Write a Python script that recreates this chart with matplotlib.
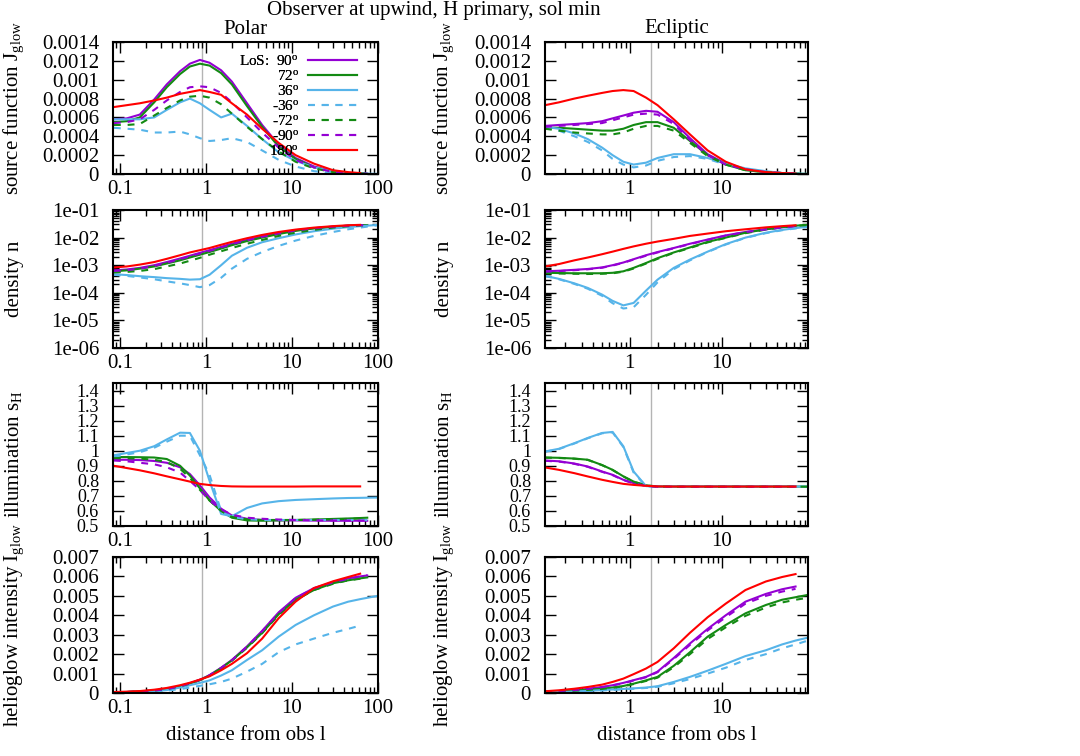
import numpy as np
import matplotlib
matplotlib.use('Agg')
import matplotlib.pyplot as plt
from matplotlib.ticker import FuncFormatter, LogLocator, MultipleLocator, NullFormatter

nan = np.nan

# line-of-sight labels and styles
los = ['90', '72', '36', '-36', '-72', '-90', '180']
los_color = {'90': '#9400d3', '72': '#138a13', '36': '#56b4e9', '-36': '#56b4e9',
             '-72': '#138a13', '-90': '#9400d3', '180': '#ff0000'}

# distance grids
x_polar = [0.085, 0.12, 0.17, 0.25, 0.35, 0.5, 0.65, 0.85, 1.1, 1.5, 2, 3, 4.5, 7, 11, 18, 30, 45, 62, 75, 100]
x_ecl = [0.12, 0.17, 0.25, 0.35, 0.5, 0.65, 0.85, 1.1, 1.5, 2, 3, 4.5, 7, 11, 18, 30, 45, 63, 86]
vline_polar = 0.91
vline_ecl = 1.69

# source function, polar
J_polar = {
    '90':  [5.8e-4, 5.9e-4, 6.3e-4, 7.9e-4, 9.5e-4, 1.09e-3, 1.17e-3, 1.21e-3, 1.18e-3, 1.10e-3, 9.8e-4, 7.5e-4, 5.2e-4, 3.1e-4, 1.7e-4, 8e-5, 3e-5, 1e-5, 5e-6, 3e-6, nan],
    '72':  [5.5e-4, 5.6e-4, 6.0e-4, 7.6e-4, 9.2e-4, 1.06e-3, 1.14e-3, 1.17e-3, 1.15e-3, 1.07e-3, 9.5e-4, 7.2e-4, 5.0e-4, 2.9e-4, 1.6e-4, 7e-5, 3e-5, 1e-5, 5e-6, 3e-6, nan],
    '36':  [5.8e-4, 5.8e-4, 5.8e-4, 6.0e-4, 6.8e-4, 7.6e-4, 8.0e-4, 7.5e-4, 6.8e-4, 6.0e-4, 6.4e-4, 5.1e-4, 3.7e-4, 2.3e-4, 1.4e-4, 7e-5, 3e-5, 1e-5, 5e-6, 3e-6, 2e-6],
    '-36': [4.9e-4, 4.8e-4, 4.7e-4, 4.4e-4, 4.4e-4, 4.5e-4, 4.2e-4, 3.8e-4, 3.5e-4, 3.6e-4, 3.8e-4, 3.4e-4, 2.5e-4, 1.5e-4, 8e-5, 3e-5, 1e-5, 5e-6, 3e-6, nan, nan],
    '-72': [5.2e-4, 5.2e-4, 5.3e-4, 6.2e-4, 7.0e-4, 7.8e-4, 8.2e-4, 8.3e-4, 8.1e-4, 7.4e-4, 6.4e-4, 5.0e-4, 3.7e-4, 2.4e-4, 1.3e-4, 6e-5, 2e-5, 1e-5, 5e-6, 3e-6, nan],
    '-90': [5.4e-4, 5.5e-4, 5.8e-4, 6.8e-4, 7.8e-4, 8.7e-4, 9.2e-4, 9.3e-4, 9.2e-4, 8.6e-4, 7.6e-4, 6.0e-4, 4.4e-4, 2.8e-4, 1.5e-4, 7e-5, 2e-5, 1e-5, 5e-6, 3e-6, nan],
    '180': [7.1e-4, 7.3e-4, 7.5e-4, 7.8e-4, 8.1e-4, 8.5e-4, 8.7e-4, 8.9e-4, 8.7e-4, 8.4e-4, 7.5e-4, 6.3e-4, 4.8e-4, 3.3e-4, 2.0e-4, 1.1e-4, 4e-5, 2e-5, 1e-5, nan, nan],
}

# density, polar
n_polar = {
    '90':  [6.5e-4, 7e-4, 8e-4, 1e-3, 1.3e-3, 1.75e-3, 2.2e-3, 2.8e-3, 3.5e-3, 4.6e-3, 6e-3, 8.3e-3, 1.1e-2, 1.45e-2, 1.85e-2, 2.2e-2, 2.5e-2, 2.7e-2, 2.8e-2, 2.85e-2, nan],
    '72':  [6e-4, 6.5e-4, 7.5e-4, 9e-4, 1.15e-3, 1.5e-3, 1.9e-3, 2.4e-3, 3e-3, 4e-3, 5.3e-3, 7.5e-3, 1e-2, 1.35e-2, 1.75e-2, 2.15e-2, 2.45e-2, 2.7e-2, 2.8e-2, 2.85e-2, nan],
    '36':  [4.7e-4, 4.4e-4, 4e-4, 3.7e-4, 3.4e-4, 3.2e-4, 3e-4, 3.1e-4, 4.5e-4, 1e-3, 2.2e-3, 4.3e-3, 6.8e-3, 9.5e-3, 1.3e-2, 1.7e-2, 2.1e-2, 2.4e-2, 2.6e-2, 2.7e-2, 2.9e-2],
    '-36': [4.5e-4, 4.1e-4, 3.6e-4, 3.1e-4, 2.6e-4, 2.2e-4, 1.9e-4, 1.6e-4, 1.9e-4, 3.5e-4, 7.5e-4, 1.7e-3, 3e-3, 5e-3, 7.8e-3, 1.15e-2, 1.6e-2, 2e-2, 2.3e-2, 2.5e-2, 2.8e-2],
    '-72': [5.5e-4, 5.7e-4, 6.2e-4, 7.2e-4, 9e-4, 1.15e-3, 1.45e-3, 1.85e-3, 2.4e-3, 3.2e-3, 4.2e-3, 6e-3, 8.2e-3, 1.15e-2, 1.5e-2, 1.9e-2, 2.3e-2, 2.6e-2, 2.75e-2, 2.8e-2, nan],
    '-90': [6.2e-4, 6.6e-4, 7.5e-4, 9.4e-4, 1.22e-3, 1.65e-3, 2.1e-3, 2.65e-3, 3.3e-3, 4.4e-3, 5.8e-3, 8e-3, 1.07e-2, 1.42e-2, 1.82e-2, 2.18e-2, 2.48e-2, 2.7e-2, 2.8e-2, 2.85e-2, nan],
    '180': [8.3e-4, 9e-4, 1.05e-3, 1.3e-3, 1.7e-3, 2.3e-3, 2.9e-3, 3.5e-3, 4.2e-3, 5.5e-3, 7e-3, 9.5e-3, 1.25e-2, 1.6e-2, 1.95e-2, 2.3e-2, 2.6e-2, 2.8e-2, 2.9e-2, nan, nan],
}

# illumination, polar
s_polar = {
    '90':  [0.94, 0.94, 0.938, 0.932, 0.92, 0.89, 0.845, 0.77, 0.69, 0.615, 0.57, 0.548, 0.54, 0.538, 0.537, 0.536, 0.535, 0.535, 0.535, 0.535, nan],
    '72':  [0.958, 0.958, 0.957, 0.955, 0.945, 0.9, 0.835, 0.75, 0.67, 0.6, 0.555, 0.537, 0.535, 0.537, 0.54, 0.543, 0.547, 0.55, 0.553, 0.555, nan],
    '36':  [0.97, 0.985, 1.0, 1.03, 1.075, 1.12, 1.118, 1.0, 0.8, 0.58, 0.565, 0.62, 0.65, 0.665, 0.673, 0.678, 0.683, 0.686, 0.687, 0.688, 0.689],
    '-36': [0.96, 0.975, 0.99, 1.02, 1.06, 1.1, 1.1, 0.97, 0.84, 0.6, 0.56, 0.545, 0.54, 0.54, 0.54, 0.54, 0.54, 0.54, 0.54, 0.54, nan],
    '-72': [0.95, 0.95, 0.948, 0.94, 0.925, 0.88, 0.82, 0.74, 0.67, 0.6, 0.56, 0.545, 0.54, 0.54, 0.54, 0.542, 0.545, 0.547, 0.55, 0.55, nan],
    '-90': [0.935, 0.93, 0.92, 0.91, 0.89, 0.855, 0.8, 0.74, 0.67, 0.61, 0.575, 0.555, 0.548, 0.543, 0.54, 0.538, 0.537, 0.536, 0.536, 0.536, nan],
    '180': [0.9, 0.885, 0.87, 0.85, 0.83, 0.81, 0.795, 0.78, 0.772, 0.766, 0.763, 0.762, 0.762, 0.762, 0.762, 0.763, 0.763, 0.763, 0.763, nan, nan],
}

# helioglow intensity, polar
I_polar = {
    '90':  [3e-5, 5e-5, 8e-5, 1.3e-4, 2e-4, 3.5e-4, 5e-4, 6.8e-4, 9.2e-4, 1.3e-3, 1.7e-3, 2.4e-3, 3.2e-3, 4.15e-3, 4.9e-3, 5.4e-3, 5.7e-3, 5.9e-3, 6e-3, 6.05e-3, nan],
    '72':  [3e-5, 5e-5, 8e-5, 1.3e-4, 2e-4, 3.4e-4, 4.9e-4, 6.7e-4, 9e-4, 1.28e-3, 1.68e-3, 2.35e-3, 3.1e-3, 4.05e-3, 4.8e-3, 5.3e-3, 5.65e-3, 5.8e-3, 5.9e-3, 5.95e-3, nan],
    '36':  [2e-5, 3e-5, 5e-5, 9e-5, 1.5e-4, 2.8e-4, 4e-4, 5.2e-4, 6.5e-4, 9e-4, 1.17e-3, 1.7e-3, 2.2e-3, 2.9e-3, 3.5e-3, 4e-3, 4.45e-3, 4.7e-3, 4.83e-3, 4.9e-3, 5e-3],
    '-36': [1e-5, 2e-5, 4e-5, 7e-5, 1.2e-4, 2e-4, 2.8e-4, 3.7e-4, 4.5e-4, 5.7e-4, 7.4e-4, 1.1e-3, 1.5e-3, 2.1e-3, 2.5e-3, 2.8e-3, 3.1e-3, 3.3e-3, 3.47e-3, nan, nan],
    '-72': [3e-5, 5e-5, 8e-5, 1.3e-4, 2e-4, 3.4e-4, 4.8e-4, 6.6e-4, 8.9e-4, 1.26e-3, 1.66e-3, 2.33e-3, 3.08e-3, 4.02e-3, 4.78e-3, 5.3e-3, 5.62e-3, 5.8e-3, 5.88e-3, 5.92e-3, nan],
    '-90': [3e-5, 5e-5, 8e-5, 1.3e-4, 2e-4, 3.5e-4, 5e-4, 6.8e-4, 9.1e-4, 1.29e-3, 1.69e-3, 2.38e-3, 3.18e-3, 4.12e-3, 4.88e-3, 5.38e-3, 5.7e-3, 5.88e-3, 6e-3, 6.05e-3, nan],
    '180': [5e-5, 7e-5, 1e-4, 1.7e-4, 2.6e-4, 4e-4, 5.3e-4, 6.9e-4, 8.6e-4, 1.17e-3, 1.5e-3, 2.05e-3, 2.8e-3, 3.85e-3, 4.7e-3, 5.4e-3, 5.75e-3, 5.97e-3, 6.14e-3, nan, nan],
}

# source function, ecliptic
J_ecl = {
    '90':  [5.1e-4, 5.2e-4, 5.3e-4, 5.4e-4, 5.6e-4, 5.9e-4, 6.2e-4, 6.5e-4, 6.7e-4, 6.6e-4, 5.5e-4, 3.8e-4, 2.1e-4, 1.1e-4, 5e-5, 2e-5, 1e-5, 5e-6, nan],
    '72':  [4.9e-4, 4.9e-4, 4.8e-4, 4.7e-4, 4.6e-4, 4.6e-4, 4.8e-4, 5.2e-4, 5.5e-4, 5.5e-4, 4.9e-4, 3.5e-4, 2.0e-4, 1.0e-4, 4e-5, 2e-5, 1e-5, 3e-6, 1e-6],
    '36':  [5.0e-4, 4.8e-4, 4.3e-4, 3.7e-4, 2.8e-4, 2.0e-4, 1.3e-4, 1.0e-4, 1.2e-4, 1.7e-4, 2.1e-4, 2.1e-4, 1.7e-4, 1.1e-4, 6e-5, 3e-5, 1e-5, 5e-6, 1e-6],
    '-36': [5.0e-4, 4.6e-4, 4.0e-4, 3.4e-4, 2.5e-4, 1.6e-4, 1.0e-4, 7e-5, 9e-5, 1.4e-4, 1.8e-4, 1.9e-4, 1.6e-4, 1.0e-4, 5e-5, 2e-5, 1e-5, 3e-6, 1e-6],
    '-72': [4.8e-4, 4.6e-4, 4.4e-4, 4.3e-4, 4.2e-4, 4.2e-4, 4.4e-4, 4.8e-4, 5.1e-4, 5.1e-4, 4.6e-4, 3.3e-4, 1.9e-4, 1.0e-4, 4e-5, 2e-5, 1e-5, 3e-6, 1e-6],
    '-90': [5.0e-4, 5.1e-4, 5.2e-4, 5.3e-4, 5.4e-4, 5.7e-4, 6.0e-4, 6.3e-4, 6.4e-4, 6.3e-4, 5.3e-4, 3.6e-4, 2.0e-4, 1.0e-4, 5e-5, 2e-5, 1e-5, 5e-6, nan],
    '180': [7.3e-4, 7.6e-4, 8.0e-4, 8.3e-4, 8.6e-4, 8.8e-4, 8.9e-4, 8.8e-4, 8.1e-4, 7.3e-4, 5.8e-4, 4.2e-4, 2.5e-4, 1.3e-4, 5e-5, 2e-5, 1e-5, 5e-6, nan],
}

# density, ecliptic
n_ecl = {
    '90':  [6e-4, 6.3e-4, 6.8e-4, 7.3e-4, 8.3e-4, 1e-3, 1.25e-3, 1.65e-3, 2.3e-3, 3e-3, 4.2e-3, 6e-3, 8.5e-3, 1.2e-2, 1.6e-2, 2e-2, 2.35e-2, 2.6e-2, nan],
    '72':  [5.3e-4, 5.2e-4, 5.1e-4, 5.1e-4, 5.1e-4, 5.3e-4, 6e-4, 8e-4, 1.2e-3, 1.8e-3, 2.9e-3, 4.4e-3, 7e-3, 1e-2, 1.5e-2, 2e-2, 2.4e-2, 2.7e-2, 2.9e-2],
    '36':  [4.1e-4, 3.2e-4, 2.2e-4, 1.5e-4, 8.6e-5, 5.1e-5, 3.5e-5, 4.3e-5, 1.2e-4, 3e-4, 8e-4, 1.6e-3, 3.1e-3, 5.8e-3, 1e-2, 1.5e-2, 1.9e-2, 2.2e-2, 2.5e-2],
    '-36': [4.1e-4, 3.1e-4, 2.1e-4, 1.4e-4, 7.8e-5, 4.2e-5, 2.7e-5, 3e-5, 8.5e-5, 2.4e-4, 7.2e-4, 1.5e-3, 3e-3, 5.6e-3, 9.8e-3, 1.45e-2, 1.85e-2, 2.15e-2, 2.45e-2],
    '-72': [5.1e-4, 5e-4, 4.9e-4, 4.8e-4, 4.9e-4, 5.1e-4, 5.8e-4, 7.6e-4, 1.15e-3, 1.7e-3, 2.8e-3, 4.2e-3, 6.7e-3, 9.8e-3, 1.45e-2, 1.95e-2, 2.35e-2, 2.65e-2, 2.85e-2],
    '-90': [5.8e-4, 6.1e-4, 6.6e-4, 7.1e-4, 8.1e-4, 9.7e-4, 1.22e-3, 1.6e-3, 2.2e-3, 2.9e-3, 4.1e-3, 5.8e-3, 8.3e-3, 1.18e-2, 1.58e-2, 1.98e-2, 2.33e-2, 2.6e-2, nan],
    '180': [9e-4, 1.1e-3, 1.5e-3, 1.9e-3, 2.5e-3, 3.1e-3, 3.9e-3, 4.8e-3, 6e-3, 7.2e-3, 9e-3, 1.15e-2, 1.4e-2, 1.7e-2, 2e-2, 2.35e-2, 2.6e-2, 2.8e-2, nan],
}

# illumination, ecliptic
s_ecl = {
    '90':  [0.935, 0.93, 0.915, 0.895, 0.862, 0.84, 0.807, 0.785, 0.767, 0.762, 0.762, 0.762, 0.762, 0.762, 0.762, 0.762, 0.762, 0.762, nan],
    '72':  [0.955, 0.953, 0.948, 0.94, 0.905, 0.873, 0.83, 0.795, 0.77, 0.763, 0.762, 0.762, 0.762, 0.762, 0.762, 0.762, 0.762, 0.762, 0.762],
    '36':  [0.995, 1.013, 1.05, 1.085, 1.118, 1.125, 1.03, 0.862, 0.765, 0.762, 0.762, 0.762, 0.762, 0.762, 0.762, 0.762, 0.762, 0.762, 0.762],
    '-36': [0.993, 1.011, 1.048, 1.083, 1.116, 1.122, 1.025, 0.855, 0.764, 0.761, 0.761, 0.761, 0.761, 0.761, 0.761, 0.761, 0.761, 0.761, 0.761],
    '-72': [0.954, 0.952, 0.947, 0.939, 0.904, 0.872, 0.829, 0.794, 0.769, 0.762, 0.761, 0.761, 0.761, 0.761, 0.761, 0.761, 0.761, 0.761, 0.761],
    '-90': [0.933, 0.928, 0.913, 0.893, 0.86, 0.838, 0.805, 0.783, 0.766, 0.761, 0.761, 0.761, 0.761, 0.761, 0.761, 0.761, 0.761, 0.761, nan],
    '180': [0.889, 0.873, 0.851, 0.829, 0.807, 0.793, 0.78, 0.773, 0.767, 0.763, 0.762, 0.762, 0.762, 0.762, 0.762, 0.762, 0.762, 0.762, nan],
}

# helioglow intensity, ecliptic
I_ecl = {
    '90':  [7e-5, 1e-4, 1.5e-4, 2.1e-4, 3.1e-4, 4e-4, 5.2e-4, 6.6e-4, 8.3e-4, 1.1e-3, 1.8e-3, 2.55e-3, 3.3e-3, 4e-3, 4.7e-3, 5.1e-3, 5.34e-3, 5.48e-3, nan],
    '72':  [6e-5, 8e-5, 1.2e-4, 1.7e-4, 2.2e-4, 2.8e-4, 3.6e-4, 4.8e-4, 6.5e-4, 8.3e-4, 1.4e-3, 2.1e-3, 2.9e-3, 3.5e-3, 4.1e-3, 4.53e-3, 4.8e-3, 4.93e-3, 5.05e-3],
    '36':  [3e-5, 5e-5, 8e-5, 1.1e-4, 1.5e-4, 1.8e-4, 2.1e-4, 2.4e-4, 2.8e-4, 3.5e-4, 5.7e-4, 8.3e-4, 1.15e-3, 1.5e-3, 1.9e-3, 2.2e-3, 2.5e-3, 2.7e-3, 2.85e-3],
    '-36': [3e-5, 5e-5, 7e-5, 1e-4, 1.3e-4, 1.6e-4, 1.9e-4, 2.2e-4, 2.6e-4, 3.2e-4, 5e-4, 7.2e-4, 1e-3, 1.3e-3, 1.7e-3, 2e-3, 2.3e-3, 2.5e-3, 2.7e-3],
    '-72': [6e-5, 8e-5, 1.2e-4, 1.6e-4, 2.1e-4, 2.7e-4, 3.4e-4, 4.6e-4, 6.2e-4, 7.9e-4, 1.33e-3, 2e-3, 2.78e-3, 3.38e-3, 3.97e-3, 4.4e-3, 4.66e-3, 4.8e-3, 4.9e-3],
    '-90': [7e-5, 1e-4, 1.5e-4, 2.1e-4, 3e-4, 3.9e-4, 5e-4, 6.4e-4, 8.1e-4, 1.07e-3, 1.75e-3, 2.48e-3, 3.22e-3, 3.9e-3, 4.6e-3, 5e-3, 5.22e-3, 5.36e-3, nan],
    '180': [9e-5, 1.4e-4, 2.2e-4, 3.1e-4, 4.3e-4, 5.7e-4, 7.4e-4, 9.7e-4, 1.26e-3, 1.6e-3, 2.3e-3, 3.1e-3, 3.9e-3, 4.6e-3, 5.3e-3, 5.74e-3, 5.97e-3, 6.12e-3, nan],
}

ylabels = ['source function J$_{\\rm glow}$', 'density n', 'illumination s$_{\\rm H}$',
           'helioglow intensity I$_{\\rm glow}$']

plt.rcParams['font.family'] = ['Liberation Serif', 'DejaVu Serif']
plt.rcParams['mathtext.fontset'] = 'custom'
plt.rcParams['mathtext.rm'] = 'Liberation Serif'
plt.rcParams['mathtext.it'] = 'Liberation Serif:italic'
plt.rcParams['font.size'] = 15

W, H = 1080, 756
fig = plt.figure(figsize=(W / 100, H / 100), dpi=100)

cols = [
    dict(x=x_polar, vline=vline_polar, xlim=(0.083, 100), left=113, right=378,
         data=[J_polar, n_polar, s_polar, I_polar], title='Polar', lab_x=14),
    dict(x=x_ecl, vline=vline_ecl, xlim=(0.12, 86), left=545, right=808,
         data=[J_ecl, n_ecl, s_ecl, I_ecl], title='Ecliptic', lab_x=444),
]
rows = [(42, 174), (210, 348), (383, 526), (557, 693)]

gfmt = FuncFormatter(lambda v, p: '%g' % v)

for col in cols:
    for r, (top, bot) in enumerate(rows):
        ax = fig.add_axes([col['left'] / W, 1 - bot / H, (col['right'] - col['left']) / W, (bot - top) / H])
        ax.axvline(col['vline'], color='#b4b4b4', lw=1, zorder=1)
        handles = []
        for k in los:
            ls = (0, (3.3, 3.3)) if k.startswith('-') else '-'
            ln, = ax.plot(col['x'], np.array(col['data'][r][k], float), color=los_color[k],
                          lw=1.5, linestyle=ls, zorder=2)
            handles.append(ln)
        ax.set_xscale('log')
        ax.set_xlim(*col['xlim'])
        ax.xaxis.set_major_locator(LogLocator(base=10))
        ax.xaxis.set_minor_locator(LogLocator(base=10, subs=np.arange(2, 10), numticks=20))
        ax.xaxis.set_major_formatter(gfmt)
        ax.xaxis.set_minor_formatter(NullFormatter())
        ysize = 15
        if r == 0:
            ax.set_ylim(0, 0.0014)
            ax.yaxis.set_major_locator(MultipleLocator(0.0002))
            ax.yaxis.set_major_formatter(gfmt)
        elif r == 1:
            ax.set_yscale('log')
            ax.set_ylim(1e-6, 1e-1)
            ax.yaxis.set_major_locator(LogLocator(base=10, numticks=20))
            ax.yaxis.set_minor_locator(LogLocator(base=10, subs=np.arange(2, 10), numticks=20))
            ax.yaxis.set_major_formatter(FuncFormatter(lambda v, p: '%.0e' % v))
            ax.yaxis.set_minor_formatter(NullFormatter())
        elif r == 2:
            ax.set_ylim(0.5, 1.45)
            ax.yaxis.set_major_locator(MultipleLocator(0.1))
            ax.yaxis.set_major_formatter(gfmt)
            ysize = 13
        else:
            ax.set_ylim(0, 0.007)
            ax.yaxis.set_major_locator(MultipleLocator(0.001))
            ax.yaxis.set_major_formatter(gfmt)
        ax.tick_params(which='both', direction='in', top=True, right=True, width=1)
        ax.tick_params(which='major', length=8)
        ax.tick_params(which='minor', length=4)
        ax.tick_params(axis='x', pad=4, labelsize=15)
        ax.tick_params(axis='y', pad=10, labelsize=ysize)
        for sp in ax.spines.values():
            sp.set_linewidth(1.5)
        fig.text(col['lab_x'] / W, 1 - (top + bot) / 2 / H, ylabels[r], rotation=90,
                 ha='center', va='center', fontsize=15)
        if r == 0:
            labels = ['LoS:  90$^{\\rm o}$'] + [k + '$^{\\rm o}$' for k in los[1:]]
            ax.legend(handles, labels, loc='upper right', frameon=False, markerfirst=False,
                      fontsize=11, handlelength=3.2, handletextpad=0.6, labelspacing=0.07,
                      borderpad=0, borderaxespad=0,
                      bbox_to_anchor=((357 - col['left']) / (col['right'] - col['left']), 0.91))
        if r == 3:
            fig.text((col['left'] + col['right']) / 2 / W, 1 - 735 / H, 'distance from obs l',
                     ha='center', va='center', fontsize=15)
    fig.text((col['left'] + col['right']) / 2 / W, 1 - 29 / H, col['title'],
             ha='center', va='center', fontsize=15)

fig.text(434 / W, 1 - 10 / H, 'Observer at upwind, H primary, sol min', ha='center', va='center', fontsize=15)

fig.savefig('out.png', dpi=100)
